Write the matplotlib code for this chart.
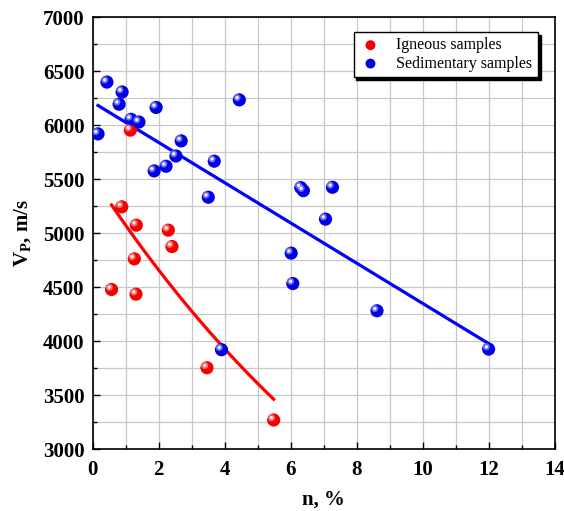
import numpy as np
import matplotlib
matplotlib.use("Agg")
import matplotlib.pyplot as plt
from matplotlib.transforms import ScaledTranslation

plt.rcParams['font.family'] = ['Liberation Serif', 'DejaVu Serif']
plt.rcParams['mathtext.fontset'] = 'custom'
plt.rcParams['mathtext.rm'] = 'Liberation Serif:bold'
plt.rcParams['mathtext.bf'] = 'Liberation Serif:bold'

# Porosity n (%) and P-wave velocity (m/s)
igneous_n = [0.57, 0.88, 1.14, 1.32, 1.26, 1.31, 2.29, 2.40, 3.46, 5.48]
igneous_vp = [4478, 5244, 5955, 5074, 4762, 4435, 5028, 4876, 3753, 3269]

sed_n = [0.16, 0.43, 0.80, 0.89, 1.16, 1.40, 1.92, 1.86, 2.22, 2.52, 2.68,
         3.50, 3.68, 4.44, 3.90, 6.01, 6.06, 6.30, 6.38, 7.26, 7.05, 8.61, 11.99]
sed_vp = [5920, 6400, 6195, 6308, 6055, 6030, 6165, 5577, 5620, 5715, 5855,
          5333, 5667, 6235, 3920, 4815, 4533, 5422, 5394, 5425, 5130, 4281, 3926]

# Trend lines: Vp = a*exp(b*n) for igneous, Vp = k*n + c for sedimentary
igneous_fit_a, igneous_fit_b = 5524.0, -0.0853
sed_fit_k, sed_fit_c = -186.5, 6213.0

x_ticks = [0, 2, 4, 6, 8, 10, 12, 14]
y_ticks = [3000, 3500, 4000, 4500, 5000, 5500, 6000, 6500, 7000]

fig = plt.figure(figsize=(5.64, 5.11), dpi=100)
ax = fig.add_axes([0.1644, 0.1213, 0.8196, 0.8448])

ax.set_xlim(0, 14)
ax.set_ylim(3000, 7000)
ax.set_xticks(x_ticks)
ax.set_yticks(y_ticks)
ax.set_xticks(np.arange(0, 14.01, 1), minor=True)
ax.set_yticks(np.arange(3000, 7001, 250), minor=True)
ax.grid(True, which='both', color='#c8c8c8', linewidth=0.9, zorder=0)
ax.set_axisbelow(True)
ax.tick_params(which='major', direction='in', length=5, width=1.0,
               labelsize=15, pad=6)
ax.tick_params(axis='x', which='major', pad=8)
ax.tick_params(which='minor', direction='in', length=3, width=1.0)
for lab in ax.get_xticklabels() + ax.get_yticklabels():
    lab.set_fontweight('bold')
for sp in ax.spines.values():
    sp.set_linewidth(1.2)

xi = np.linspace(min(igneous_n), max(igneous_n), 100)
ax.plot(xi, igneous_fit_a * np.exp(igneous_fit_b * xi), color='#ff0000',
        lw=2.3, zorder=2)

xs = np.linspace(min(sed_n), max(sed_n), 2)
ax.plot(xs, sed_fit_k * xs + sed_fit_c, color='#0000ff', lw=2.3, zorder=2)

# Shaded sphere markers
hl = ax.transData + ScaledTranslation(-1.6 / 72, 1.6 / 72, fig.dpi_scale_trans)


def spheres(x, y, col, light, label):
    ax.scatter(x, y, s=90, color=col, edgecolors='none', zorder=3, label=label)
    ax.scatter(x, y, s=26, color=light, edgecolors='none', alpha=0.8,
               transform=hl, zorder=4)
    ax.scatter(x, y, s=6, color='white', edgecolors='none', alpha=0.9,
               transform=hl, zorder=5)


spheres(igneous_n, igneous_vp, '#f40000', '#ff8080', 'Igneous samples')
spheres(sed_n, sed_vp, '#0000e6', '#8080ff', 'Sedimentary samples')

leg = ax.legend(loc='upper right', fontsize=11.5, frameon=True, fancybox=False,
                shadow={'color': 'black', 'alpha': 1}, edgecolor='black',
                borderpad=0.35, handletextpad=0.9, labelspacing=0.15,
                bbox_to_anchor=(0.98, 0.985), handlelength=1.4,
                markerscale=0.75)
leg.get_frame().set_linewidth(1.0)

ax.set_xlabel('n, %', fontsize=15, fontweight='bold', labelpad=7)
ax.set_ylabel(r'V$_\mathbf{P}$, m/s', fontsize=15, fontweight='bold', labelpad=6)

fig.savefig('out.png', dpi=100)
